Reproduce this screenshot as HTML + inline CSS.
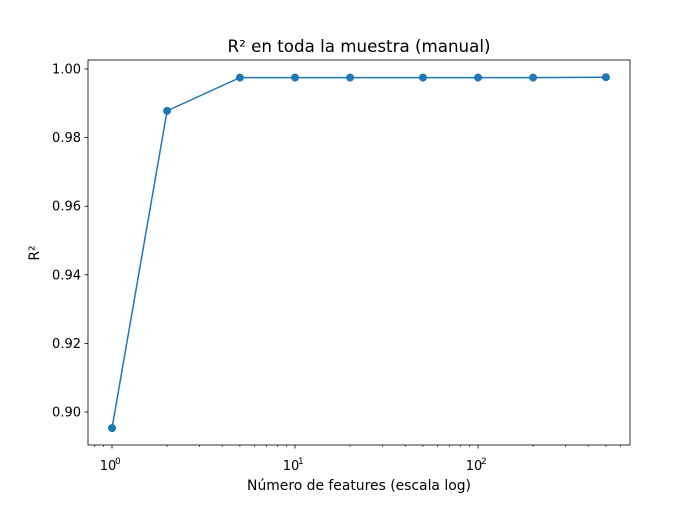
<!DOCTYPE html>
<html><head><meta charset="utf-8"><style>
body{margin:0;background:#fff;}
svg text{font-family:"DejaVu Sans","Liberation Sans",sans-serif;}
</style></head><body>
<svg id="chart" width="700" height="500" xmlns="http://www.w3.org/2000/svg"></svg>
<script>
const features=[1,2,5,10,20,50,100,200,500];
const r2=[0.8953,0.9878,0.9975,0.9975,0.9975,0.9975,0.9975,0.9975,0.9976];
const yTicks=[0.90,0.92,0.94,0.96,0.98,1.00];
const xTickExp=[0,1,2];
const L=88,R=630,T=60,B=445;
const x0=112,dec=183;
function xs(v){return x0+Math.log10(v)*dec;}
function ys(v){return 412+(0.90-v)/0.10*343;}
const svg=document.getElementById('chart');
const NS='http://www.w3.org/2000/svg';
function mk(tag,attrs,parent){const e=document.createElementNS(NS,tag);for(const k in attrs)e.setAttribute(k,attrs[k]);(parent||svg).appendChild(e);return e;}
yTicks.forEach(t=>{const y=ys(t);
 const l=mk('line',{x1:L-3.5,x2:L,y1:y,y2:y,stroke:'#000','stroke-width':0.8});
 
 const tx=mk('text',{x:L-7,y:y+4.5,'text-anchor':'end','font-size':13});tx.textContent=t.toFixed(2);
 });
for(let e=-1;e<=3;e++){for(let m=1;m<10;m++){const v=m*Math.pow(10,e);const x=xs(v);if(x<L||x>R)continue;
 const major=m===1;
 const l=mk('line',{x1:x,x2:x,y1:B,y2:B+(major?3.5:2),stroke:'#000','stroke-width':major?0.8:0.6});
 }}
xTickExp.forEach(e=>{const x=xs(Math.pow(10,e));
 const tx=mk('text',{x:x-4,y:B+25,'text-anchor':'middle','font-size':13});tx.textContent='10';
 
 const sp=mk('text',{x:x+3,y:B+19,'font-size':9});sp.textContent=String(e);
 });
const fr=mk('rect',{x:L,y:T,width:R-L,height:B-T,fill:'none',stroke:'#000','stroke-width':0.8});

const pl=mk('polyline',{points:features.map((f,i)=>xs(f)+','+ys(r2[i])).join(' '),fill:'none',stroke:'#1f77b4','stroke-width':1.5});

features.forEach((f,i)=>{const c=mk('circle',{cx:xs(f),cy:ys(r2[i]),r:4,fill:'#1f77b4'});
 });
const tt=mk('text',{x:359,y:52,'text-anchor':'middle','font-size':16.7});tt.textContent='R² en toda la muestra (manual)';

const xl=mk('text',{x:359,y:490,'text-anchor':'middle','font-size':13.9});xl.textContent='Número de features (escala log)';

const yl=mk('text',{x:39,y:253,'text-anchor':'middle','font-size':13.9,transform:'rotate(-90 39 253)'});yl.textContent='R²';

</script>
</body></html>
